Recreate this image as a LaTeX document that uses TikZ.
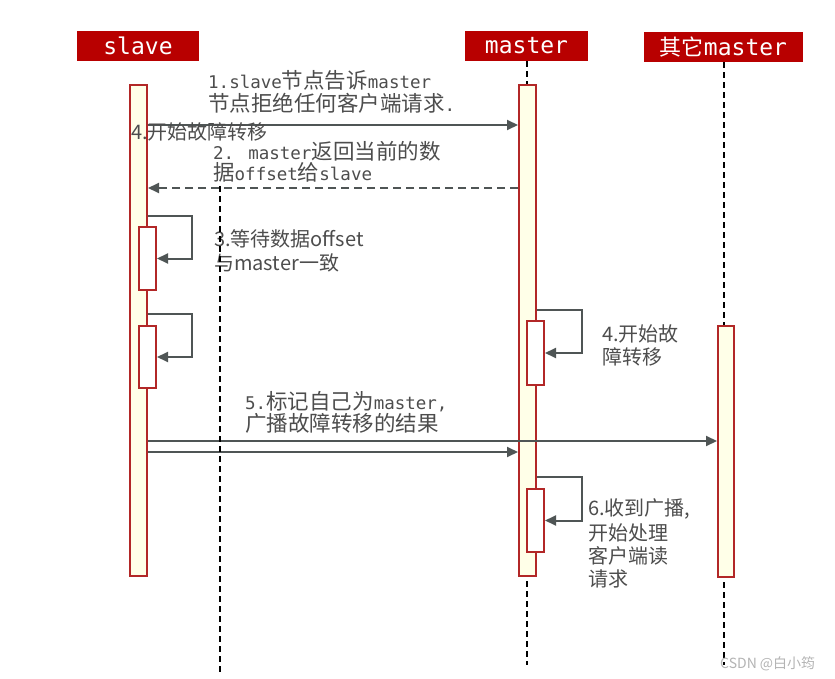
\documentclass[tikz,border=0pt]{standalone}
\usepackage{fontspec}
\setmainfont{Noto Sans CJK SC}
\newfontfamily\monofam{DejaVu Sans Mono}
\newfontfamily\cjkfam{Noto Sans CJK SC}
\usetikzlibrary{arrows.meta}
\definecolor{hdrred}{HTML}{B80000}
\definecolor{barred}{HTML}{B22727}
\definecolor{barfill}{HTML}{FFFFE8}
\definecolor{msggray}{HTML}{4F5555}
\definecolor{txtgray}{HTML}{4D4D4D}
\definecolor{markgray}{HTML}{B4B4B4}
\newcommand\mtx[1]{{\monofam\fontsize{17.5}{20}\selectfont #1}}
\newcommand\ctx[1]{{\cjkfam\fontsize{21.5}{24}\selectfont #1}}
\newcommand\stx{\cjkfam\fontsize{20}{24}\selectfont}
\tikzset{
  hdr/.style={fill=hdrred, text=white, inner sep=0pt, minimum height=30pt, font=\monofam\fontsize{23}{26}\selectfont},
  bar/.style={draw=barred, fill=barfill, line width=2pt, inner sep=0pt},
  nest/.style={draw=barred, fill=white, line width=2pt, inner sep=0pt},
  life/.style={line width=2pt, dash pattern=on 6pt off 4pt},
  msg/.style={draw=msggray, line width=2pt, -{Triangle[length=11pt,width=10pt]}},
  reply/.style={msg, dash pattern=on 8pt off 5pt},
  lbl/.style={anchor=base west, inner sep=0pt, text=txtgray},
  slbl/.style={lbl, font=\stx},
}
\begin{document}
\begin{tikzpicture}[x=1pt,y=-1pt]
\fill[white] (0,0) rectangle (835,679);
\useasboundingbox (0,0) rectangle (835,679);
% headers
\node[hdr, minimum width=122pt] (shdr) at (138,46) {slave};
\node[hdr, minimum width=123pt] (mhdr) at (526.5,46) {master};
\node[hdr, minimum width=159pt] (ohdr) at (723.5,47) {{\cjkfam\fontsize{22}{26}\selectfont 其它}master};
% lifelines
\coordinate (mend) at (527,665);
\coordinate (oend) at (724,665);
\draw[life] (mhdr.south -| mend) -- (mend);
\draw[life] (ohdr.south -| oend) -- (oend);
% activation bars
\node[bar, minimum width=17pt, minimum height=491pt] (sbar) at (138.5,330.5) {};
\node[bar, minimum width=17pt, minimum height=491pt] (mbar) at (527.5,330.5) {};
\node[bar, minimum width=16pt, minimum height=251pt] (obar) at (726,451.5) {};
\node[nest, minimum width=17pt, minimum height=63pt] (sn1) at (147.5,258.5) {};
\node[nest, minimum width=17pt, minimum height=62pt] (sn2) at (147.5,357) {};
\node[nest, minimum width=17pt, minimum height=64pt] (mn1) at (535.5,353) {};
\node[nest, minimum width=17pt, minimum height=63pt] (mn2) at (535.5,520.5) {};
% messages
\draw[msg] (sbar.east |- 0,125) -- (mbar.west |- 0,125);
\draw[reply] (mbar.west |- 0,188) -- (sbar.east |- 0,188);
\draw[msg] (sbar.east |- 0,216) -- ++(44,0) |- (sn1.east);
\draw[msg] (sbar.east |- 0,314) -- ++(44,0) |- (sn2.east);
\draw[msg] (mbar.east |- 0,310) -- ++(45,0) |- (mn1.east);
\draw[msg] (mbar.east |- 0,477) -- ++(45,0) |- (mn2.east);
\draw[msg] (sbar.east |- 0,441) -- (obar.west |- 0,441);
\draw[msg] (sbar.east |- 0,452) -- (mbar.west |- 0,452);
% labels
\node[lbl] (t1a) at (208,89) {\mtx{1.slave}\ctx{节点告诉}\mtx{master}};
\node[lbl] (t1b) at (208,112) {\ctx{节点拒绝任何客户端请求}\mtx{.}};
\node[slbl] (t4s) at (131,140) {4.开始故障转移};
\node[lbl] (t2a) at (213,160) {\mtx{2. master}\ctx{返回当前的数}};
\node[lbl] (t2b) at (213,181) {\ctx{据}\mtx{offset}\ctx{给}\mtx{slave}};
\node[slbl] (t3a) at (214,246) {3.等待数据offset};
\node[slbl] (t3b) at (214,270) {与master一致};
\node[slbl] (t4a) at (602,341) {4.开始故};
\node[slbl] (t4b) at (602,364) {障转移};
\node[lbl] (t5a) at (245,409) {\mtx{5.}\ctx{标记自己为}\mtx{master,}};
\node[lbl] (t5b) at (245,431) {\ctx{广播故障转移的结果}};
\node[slbl] (t6a) at (588,515) {6.收到广播,};
\node[slbl] (t6b) at (588,540) {开始处理};
\node[slbl] (t6c) at (588,563) {客户端读};
\node[slbl] (t6d) at (588,586) {请求};
\node[anchor=base west, inner sep=0pt, text=markgray, font=\cjkfam\fontsize{14}{16}\selectfont] (wm) at (720,668) {CSDN @白小筠};
% slave lifeline (drawn over)
\coordinate (stop) at (220,186);
\coordinate (send) at (220,675);
\draw[life] (stop) -- (send);
\end{tikzpicture}
\end{document}
